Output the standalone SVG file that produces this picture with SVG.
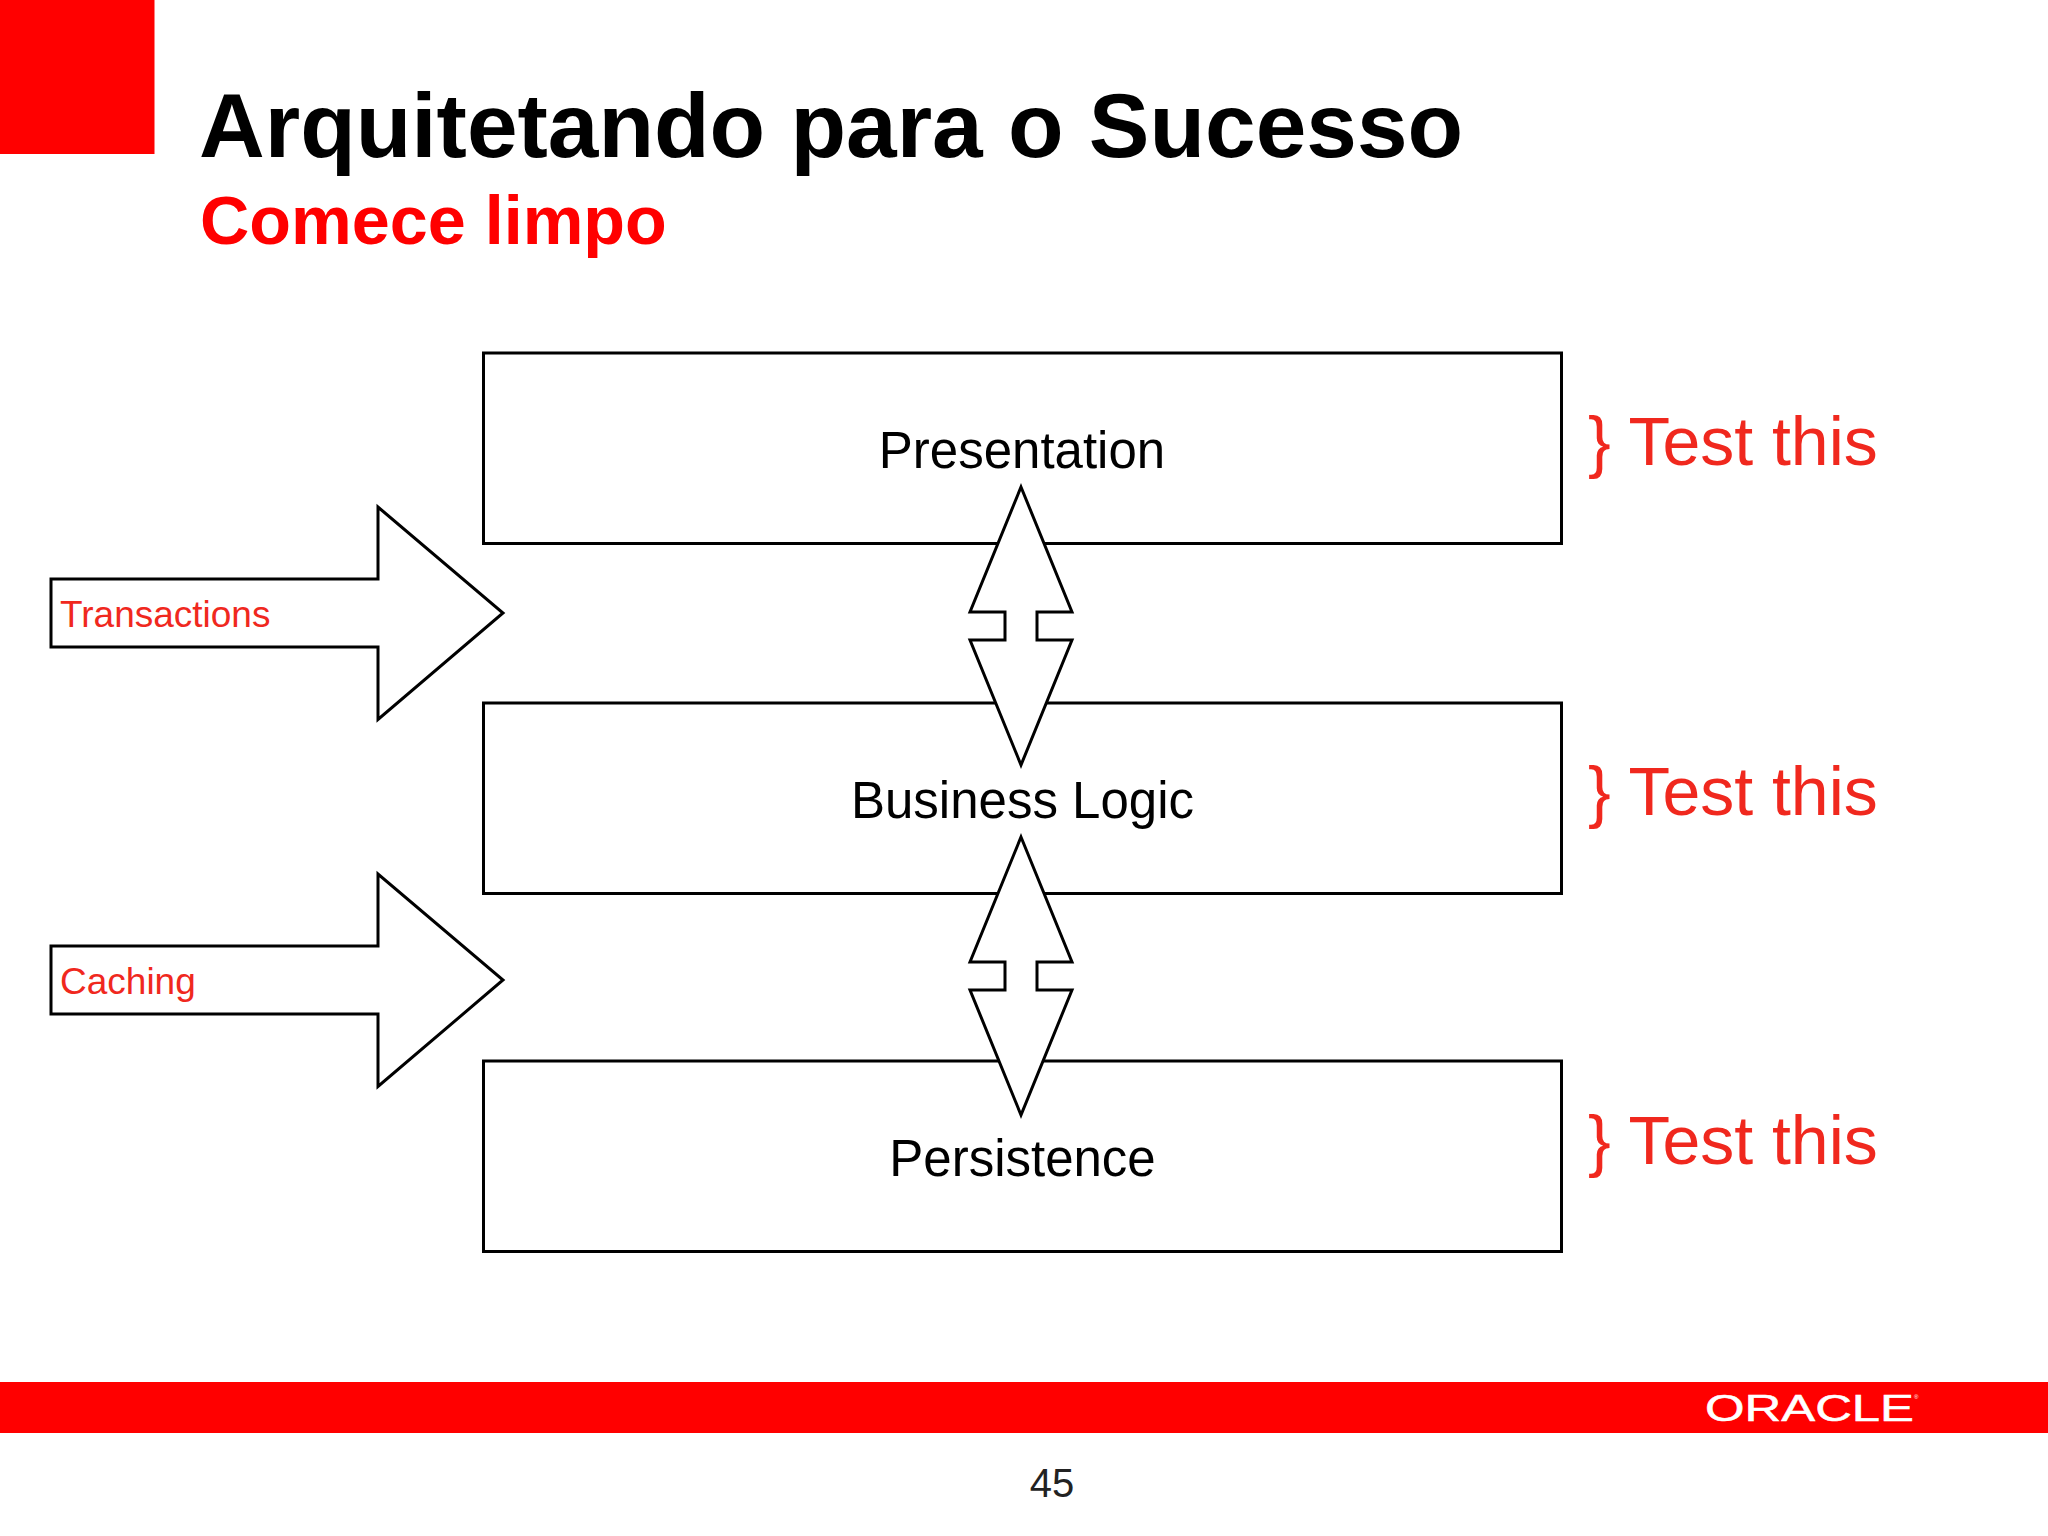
<svg xmlns="http://www.w3.org/2000/svg" width="2048" height="1536" viewBox="0 0 2048 1536">
<style>
text{font-family:"Liberation Sans",Arial,sans-serif}
.shape{fill:#fff;stroke:#000;stroke-width:3}
.label{font-size:51px;fill:#000;text-anchor:middle}
.test{font-size:68px;fill:#f0281e}
.side{font-size:37px;fill:#f0281e}
</style>
<rect width="2048" height="1536" fill="#fff"/>
<rect id="corner" width="154.500" height="154" fill="#f00"/>
<text x="199" y="157" font-size="91" font-weight="700" fill="#000">Arquitetando para o Sucesso</text>
<text x="200" y="244" font-size="68.300" font-weight="700" fill="#f00">Comece limpo</text>
<g id="presentation"><rect class="shape" x="483.500" y="353" width="1078" height="190.500"/><text class="label" x="1022" y="468">Presentation</text></g>
<g id="business-logic"><rect class="shape" x="483.500" y="703" width="1078" height="190.500"/><text class="label" x="1022.500" y="818">Business Logic</text></g>
<g id="persistence"><rect class="shape" x="483.500" y="1061" width="1078" height="190.500"/><text class="label" x="1022.500" y="1176">Persistence</text></g>
<g id="connectors">
<path id="link-1" class="shape" d="M1021 487L1072 612H1037V640H1072L1021 765L970 640H1005V612H970Z"/>
<path id="link-2" class="shape" d="M1021 837L1072 962H1037V990H1072L1021 1115L970 990H1005V962H970Z"/>
</g>
<g id="transactions"><path class="shape" d="M51 579H378V507L503 613L378 719.500V647H51Z"/><text class="side" x="60" y="627">Transactions</text></g>
<g id="caching"><path class="shape" d="M51 946H378V874L503 980L378 1086.500V1014H51Z"/><text class="side" x="60" y="994">Caching</text></g>
<g id="tests">
<text class="test" x="1588" y="465">} Test this</text>
<text class="test" x="1588" y="815">} Test this</text>
<text class="test" x="1588" y="1164">} Test this</text>
</g>
<rect id="footer" y="1382" width="2048" height="51" fill="#f00"/>
<text x="1705" y="1421" font-size="37" fill="#fff" stroke="#fff" stroke-width="0.500" textLength="209" lengthAdjust="spacingAndGlyphs">ORACLE</text>
<text x="1914" y="1399" font-size="6" fill="#fff">®</text>
<text x="1052" y="1497" font-size="40" fill="#222" text-anchor="middle">45</text>
</svg>
